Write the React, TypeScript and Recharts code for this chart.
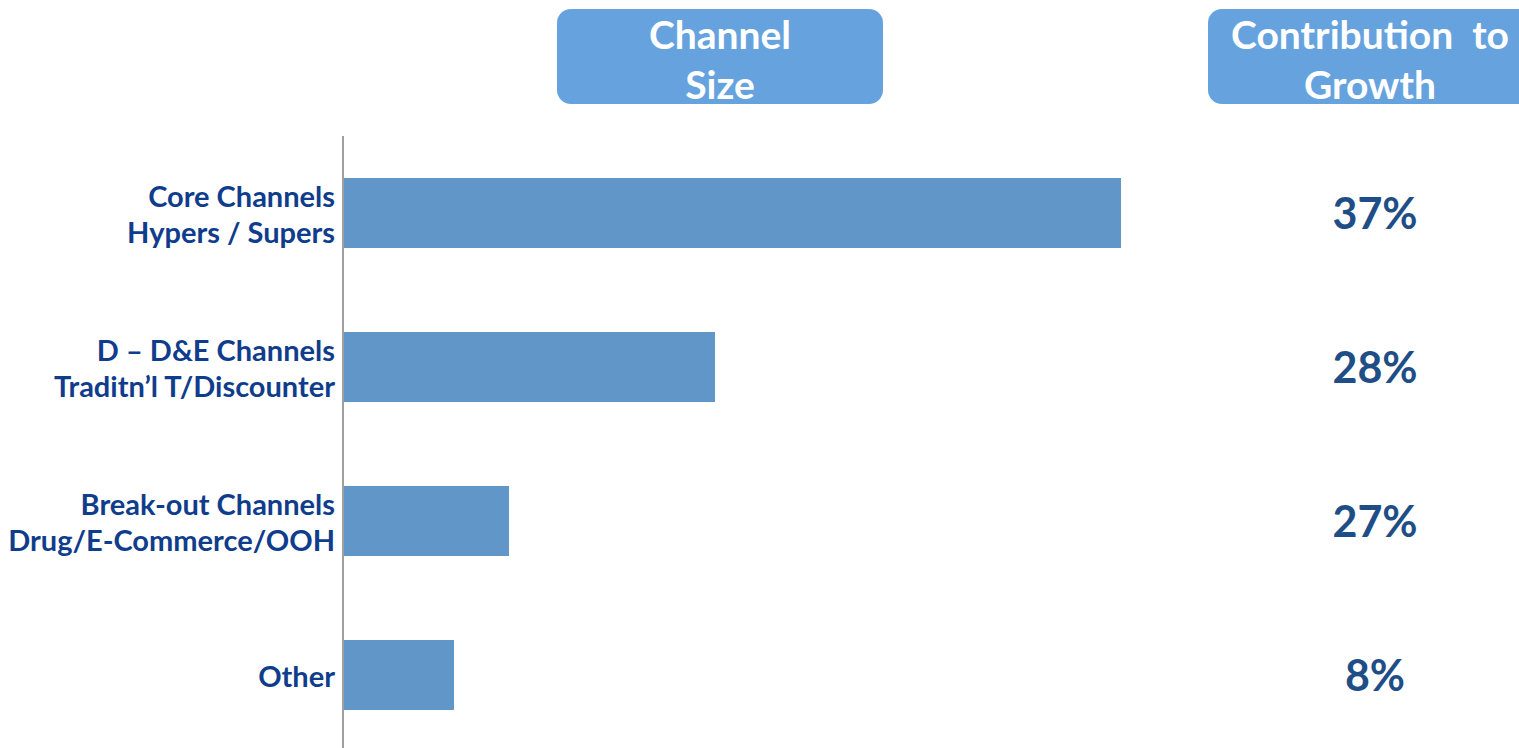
import React from 'react'
import { BarChart, Bar, XAxis, YAxis } from 'recharts'

// channel rows, top to bottom
const channels = ['Core Channels|Hypers / Supers', 'D – D&E Channels|Traditn’l T/Discounter', 'Break-out Channels|Drug/E-Commerce/OOH', 'Other']
// channel size (relative units)
const sizes = [7.78, 3.72, 1.66, 1.11]
// contribution to growth
const growth = ['37%', '28%', '27%', '8%']

const data = channels.map((c, i) => ({ name: c, size: sizes[i], growth: growth[i] }))

const FONT = 'Lato, "Open Sans", sans-serif'

const LeftTick = (props: any) => {
  const { x, y, payload } = props
  const lines = String(payload.value).split('|')
  const lh = 36
  const start = y - ((lines.length - 1) * lh) / 2 + 2
  const tx = x + 7
  return (
    <text x={tx} y={start} textAnchor="end" fill="#0F3D8C" fontFamily={FONT} fontWeight={700} fontSize={29}>
      {lines.map((l, i) => (
        <tspan key={i} x={tx} y={start + i * lh} dy="0.36em">{l}</tspan>
      ))}
    </text>
  )
}

const RightTick = (props: any) => {
  const { x, y, payload } = props
  return (
    <text x={x + 24} y={y + 1} dy="0.36em" textAnchor="middle" fill="#1F4E87" fontFamily={FONT} fontWeight={700} fontSize={43}>
      {payload.value}
    </text>
  )
}

const boxStyle: React.CSSProperties = {
  position: 'absolute', top: 9, height: 95, background: '#66A3DE', borderRadius: 14,
  color: '#fff', fontFamily: FONT, fontWeight: 700, fontSize: 39, lineHeight: '50px',
  textAlign: 'center', whiteSpace: 'pre', boxSizing: 'border-box', paddingTop: 0,
}

export default function App() {
  return (
    <div style={{ position: 'relative', width: 1519, height: 748, overflow: 'hidden', background: '#fff' }}>
      <style>{`body{margin:0}`}</style>
      <BarChart width={1519} height={760} data={data} layout="vertical"
        margin={{ top: 136, right: 0, bottom: 8, left: 0 }} barCategoryGap={42}>
        <XAxis type="number" domain={[0, 10]} hide />
        <YAxis yAxisId="left" type="category" dataKey="name" width={343}
          axisLine={{ stroke: '#A0A0A0', strokeWidth: 2 }} tickLine={false} tick={<LeftTick />} tickMargin={9} />
        <YAxis yAxisId="right" type="category" dataKey="growth" orientation="right" width={176}
          axisLine={false} tickLine={false} tick={<RightTick />} />
        <Bar yAxisId="left" dataKey="size" fill="#6196C9" isAnimationActive={false} />
      </BarChart>
      <div style={{ ...boxStyle, left: 557, width: 326 }}>{'Channel\nSize'}</div>
      <div style={{ ...boxStyle, left: 1208, width: 324 }}>{'Contribution  to\nGrowth'}</div>
    </div>
  )
}
